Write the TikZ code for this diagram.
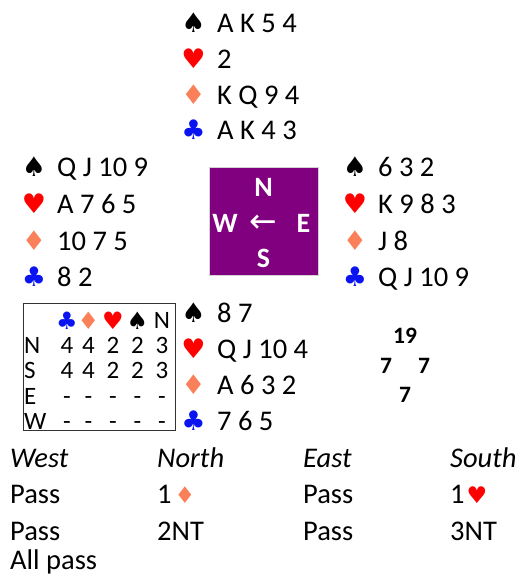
\documentclass[tikz,border=0pt]{standalone}
\usepackage{fontspec}
\setmainfont{Carlito}
\newfontfamily\suitfont{DejaVu Sans}
\definecolor{heartc}{RGB}{255,0,0}
\definecolor{diamc}{RGB}{250,128,90}
\definecolor{clubc}{RGB}{10,20,240}
\definecolor{compassc}{RGB}{128,0,128}
\newcommand{\mySp}{{\suitfont\color{black}♠}}
\newcommand{\myHe}{{\suitfont\color{heartc}♥}}
\newcommand{\myDi}{{\suitfont\color{diamc}♦}}
\newcommand{\myCl}{{\suitfont\color{clubc}♣}}
\tikzset{
  card/.style={anchor=base west, inner sep=0pt, font=\fontsize{28.5}{34}\selectfont},
  suit/.style={anchor=base, inner sep=0pt, font=\fontsize{27}{32}\selectfont},
  tsuit/.style={anchor=base, inner sep=0pt, font=\fontsize{24}{28}\selectfont},
  tcell/.style={anchor=base, inner sep=0pt, font=\fontsize{25}{30}\selectfont},
  tlab/.style={anchor=base west, inner sep=0pt, font=\fontsize{25}{30}\selectfont},
  comp/.style={anchor=center, inner sep=0pt, text=white, font=\fontsize{28}{32}\selectfont\bfseries},
  hcp/.style={anchor=center, inner sep=0pt, font=\fontsize{23.5}{28}\selectfont\bfseries},
  bid/.style={anchor=base west, inner sep=0pt, font=\fontsize{28.5}{34}\selectfont}
}
\begin{document}
\begin{tikzpicture}[x=1pt,y=-1pt]
\useasboundingbox (0,0) rectangle (519,577);
% North
\node[suit] (ns) at (193.5,33) {\mySp};
\node[card] (nsc) at (217,33) {A K 5 4};
\node[suit] (nh) at (193.5,69) {\myHe};
\node[card] (nhc) at (217,69) {2};
\node[suit] (nd) at (193.5,105) {\myDi};
\node[card] (ndc) at (217,105) {K Q 9 4};
\node[suit] (nc) at (193.5,140) {\myCl};
\node[card] (ncc) at (217,140) {A K 4 3};
% West
\node[suit] (ws) at (34,177) {\mySp};
\node[card] (wsc) at (57,177) {Q J 10 9};
\node[suit] (wh) at (34,213) {\myHe};
\node[card] (whc) at (57,213) {A 7 6 5};
\node[suit] (wd) at (34,250) {\myDi};
\node[card] (wdc) at (57,250) {10 7 5};
\node[suit] (wc) at (34,286) {\myCl};
\node[card] (wcc) at (57,286) {8 2};
% East
\node[suit] (es) at (355,177) {\mySp};
\node[card] (esc) at (378,177) {6 3 2};
\node[suit] (eh) at (355,213) {\myHe};
\node[card] (ehc) at (378,213) {K 9 8 3};
\node[suit] (ed) at (355,250) {\myDi};
\node[card] (edc) at (378,250) {J 8};
\node[suit] (ec) at (355,286) {\myCl};
\node[card] (ecc) at (378,286) {Q J 10 9};
% South
\node[suit] (ss) at (193.5,322) {\mySp};
\node[card] (ssc) at (217,322) {8 7};
\node[suit] (sh) at (193.5,358) {\myHe};
\node[card] (shc) at (217,358) {Q J 10 4};
\node[suit] (sd) at (193.5,394) {\myDi};
\node[card] (sdc) at (217,394) {A 6 3 2};
\node[suit] (sc) at (193.5,430) {\myCl};
\node[card] (scc) at (217,430) {7 6 5};
% Compass
\node[fill=compassc, draw=gray!35, line width=0.8pt, minimum width=109, minimum height=108, inner sep=0pt, anchor=north west] (compass) at (209,167) {};
\node[comp] (cn) at (263.5,187.5) {N};
\node[comp] (cw) at (225,223.5) {W};
\node[comp] (ce) at (303.5,223.5) {E};
\node[comp] (cs) at (263.5,258.5) {S};
\node[comp, font=\suitfont\fontsize{33}{36}\selectfont] (ca) at (263.5,224) {←};
% Table
\node[draw=black!80, line width=0.8pt, minimum width=152, minimum height=127, inner sep=0pt, anchor=north west] (tbl) at (23,303) {};
\node[tsuit] (hc) at (67,329) {\myCl};
\node[tsuit] (hd) at (88.5,329) {\myDi};
\node[tsuit] (hh) at (113,329) {\myHe};
\node[tsuit] (hs) at (137.5,329) {\mySp};
\node[tcell] (hn) at (162,328) {N};
\node[tlab] (rn) at (24,353) {N};
\node[tlab] (rs) at (24,378) {S};
\node[tlab] (re) at (24,404) {E};
\node[tlab] (rw) at (24,429) {W};
\node[tcell] (n1) at (67,353) {4};
\node[tcell] (n2) at (88.5,353) {4};
\node[tcell] (n3) at (113,353) {2};
\node[tcell] (n4) at (137.5,353) {2};
\node[tcell] (n5) at (162,353) {3};
\node[tcell] (s1) at (67,378) {4};
\node[tcell] (s2) at (88.5,378) {4};
\node[tcell] (s3) at (113,378) {2};
\node[tcell] (s4) at (137.5,378) {2};
\node[tcell] (s5) at (162,378) {3};
\node[tcell] (e1) at (67,404) {-};
\node[tcell] (e2) at (88.5,404) {-};
\node[tcell] (e3) at (113,404) {-};
\node[tcell] (e4) at (137.5,404) {-};
\node[tcell] (e5) at (162,404) {-};
\node[tcell] (w1) at (67,429) {-};
\node[tcell] (w2) at (88.5,429) {-};
\node[tcell] (w3) at (113,429) {-};
\node[tcell] (w4) at (137.5,429) {-};
\node[tcell] (w5) at (162,429) {-};
% HCP
\node[hcp] (hcpn) at (405,335.5) {19};
\node[hcp] (hcpw) at (386,365.5) {7};
\node[hcp] (hcpe) at (424,365.5) {7};
\node[hcp] (hcps) at (405,394.5) {7};
% Auction
\node[bid] (aw) at (10,467) {\itshape West};
\node[bid] (an) at (157,467) {\itshape North};
\node[bid] (ae) at (303,467) {\itshape East};
\node[bid] (as) at (450,467) {\itshape South};
\node[bid] (b1) at (10,503) {Pass};
\node[bid] (b2) at (157,503) {1\kern3pt{\fontsize{23}{26}\selectfont\myDi}};
\node[bid] (b3) at (303,503) {Pass};
\node[bid] (b4) at (450,503) {1\kern2pt{\fontsize{23}{26}\selectfont\myHe}};
\node[bid] (b5) at (10,540) {Pass};
\node[bid] (b6) at (157,540) {2NT};
\node[bid] (b7) at (303,540) {Pass};
\node[bid] (b8) at (450,540) {3NT};
\node[bid] (b9) at (10,569) {All pass};
\end{tikzpicture}
\end{document}
